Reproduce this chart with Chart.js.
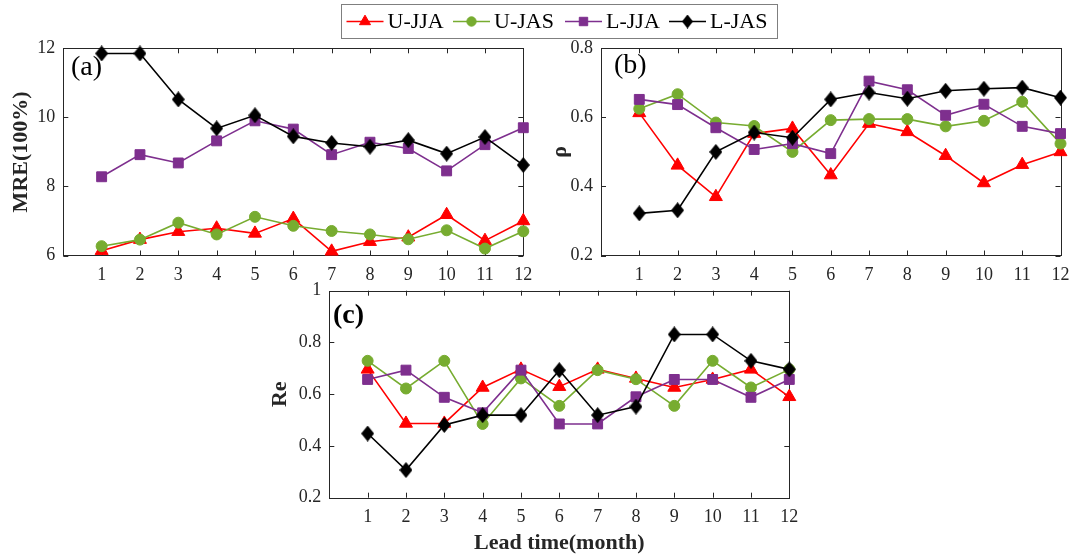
<!DOCTYPE html>
<html>
<head>
<meta charset="utf-8">
<title>MRE, rho and Re by lead time</title>
<script src="https://cdn.jsdelivr.net/npm/chart.js@4.4.1/dist/chart.umd.min.js"></script>
<style>
    html, body { margin: 0; padding: 0; background: #fff; }
    #wrap { position: relative; width: 1075px; height: 559px; }
    #wrap canvas { position: absolute; left: 0; top: 0; }
</style>
</head>
<body>
<div id="wrap">
    <canvas id="chartA" width="1075" height="559"></canvas>
    <canvas id="chartB" width="1075" height="559"></canvas>
    <canvas id="chartC" width="1075" height="559"></canvas>
</div>
<script>
// Lead times (months)
const months = [1, 2, 3, 4, 5, 6, 7, 8, 9, 10, 11, 12];
const seriesNames = ['U-JJA', 'U-JAS', 'L-JJA', 'L-JAS'];

// (a) MRE(100%)
const mreUJJA = [6.14, 6.46, 6.69, 6.79, 6.64, 7.07, 6.12, 6.40, 6.53, 7.18, 6.43, 7.00];
const mreUJAS = [6.27, 6.46, 6.95, 6.61, 7.12, 6.86, 6.71, 6.61, 6.47, 6.73, 6.20, 6.70];
const mreLJJA = [8.28, 8.92, 8.68, 9.32, 9.90, 9.66, 8.92, 9.28, 9.10, 8.45, 9.21, 9.70];
const mreLJAS = [11.85, 11.85, 10.52, 9.68, 10.06, 9.45, 9.26, 9.15, 9.34, 8.95, 9.43, 8.62];
const mreTicks = [6, 8, 10, 12];

// (b) rho
const rhoUJJA = [0.613, 0.461, 0.370, 0.553, 0.568, 0.433, 0.582, 0.558, 0.489, 0.410, 0.463, 0.500];
const rhoUJAS = [0.625, 0.667, 0.585, 0.575, 0.500, 0.592, 0.595, 0.595, 0.574, 0.590, 0.645, 0.524];
const rhoLJJA = [0.652, 0.637, 0.570, 0.507, 0.524, 0.495, 0.705, 0.680, 0.606, 0.638, 0.574, 0.553];
const rhoLJAS = [0.322, 0.331, 0.500, 0.556, 0.541, 0.652, 0.672, 0.654, 0.677, 0.683, 0.686, 0.657];
const rhoTicks = [0.2, 0.4, 0.6, 0.8];

// (c) Re
const reUJJA = [0.696, 0.487, 0.487, 0.626, 0.696, 0.629, 0.696, 0.661, 0.626, 0.657, 0.696, 0.590];
const reUJAS = [0.729, 0.622, 0.729, 0.485, 0.661, 0.555, 0.693, 0.658, 0.555, 0.729, 0.626, 0.696];
const reLJJA = [0.657, 0.693, 0.588, 0.528, 0.693, 0.485, 0.485, 0.590, 0.657, 0.657, 0.588, 0.657];
const reLJAS = [0.448, 0.307, 0.481, 0.519, 0.519, 0.693, 0.519, 0.552, 0.831, 0.831, 0.729, 0.696];
const reTicks = [0.2, 0.4, 0.6, 0.8, 1];

const colors = ['#ff0000', '#77ac30', '#7e2f8e', '#000000'];
const FONT = "'Liberation Serif', 'Times New Roman', serif";

Chart.defaults.font.family = FONT;
Chart.defaults.color = '#262626';

// Tall diamond marker like MATLAB's 'd'
function makeDiamond(w, h) {
    const c = document.createElement('canvas');
    c.width = w; c.height = h;
    const g = c.getContext('2d');
    g.fillStyle = '#000';
    g.beginPath();
    g.moveTo(w / 2, 0);
    g.lineTo(w, h / 2);
    g.lineTo(w / 2, h);
    g.lineTo(0, h / 2);
    g.closePath();
    g.fill();
    return c;
}
const diamond = makeDiamond(13, 16);
const diamondSmall = makeDiamond(11, 14);

const markers = [
    { style: 'triangle', radius: 7.5 },
    { style: 'circle', radius: 5.5 },
    { style: 'rect', radius: 7 },
    { style: diamond, radius: 7 }
];

// Box round the plot area with inward ticks on all four sides
const framePlugin = {
    id: 'frame',
    beforeDatasetsDraw(chart) {
        const ctx = chart.ctx;
        const a = chart.chartArea;
        const xs = chart.scales.x, ys = chart.scales.y;
        const len = 5;
        ctx.save();
        ctx.strokeStyle = '#262626';
        ctx.lineWidth = 1;
        ctx.strokeRect(Math.round(a.left) + 0.5, Math.round(a.top) + 0.5,
            Math.round(a.right - a.left), Math.round(a.bottom - a.top));
        ctx.beginPath();
        xs.ticks.forEach(t => {
            const px = Math.round(xs.getPixelForValue(t.value)) + 0.5;
            ctx.moveTo(px, a.bottom); ctx.lineTo(px, a.bottom - len);
            ctx.moveTo(px, a.top); ctx.lineTo(px, a.top + len);
        });
        ys.ticks.forEach(t => {
            const py = Math.round(ys.getPixelForValue(t.value)) + 0.5;
            ctx.moveTo(a.left, py); ctx.lineTo(a.left + len, py);
            ctx.moveTo(a.right, py); ctx.lineTo(a.right - len, py);
        });
        ctx.stroke();
        ctx.restore();
    }
};

// (a) / (b) / (c) tag inside each panel
const tagPlugin = {
    id: 'panelTag',
    afterDatasetsDraw(chart, args, opts) {
        if (!opts.text) return;
        const ctx = chart.ctx;
        ctx.save();
        ctx.font = (opts.bold ? 'bold ' : '') + '28px ' + FONT;
        ctx.fillStyle = '#000';
        ctx.textAlign = 'left';
        ctx.textBaseline = 'middle';
        ctx.fillText(opts.text, opts.x, opts.y);
        ctx.restore();
    }
};

// Shared legend drawn once, above the top panels
const legendPlugin = {
    id: 'sharedLegend',
    afterDraw(chart, args, opts) {
        if (!opts.show) return;
        const ctx = chart.ctx;
        ctx.save();
        ctx.fillStyle = '#fff';
        ctx.fillRect(341.5, 4.5, 436, 34);
        ctx.strokeStyle = '#7f7f7f';
        ctx.lineWidth = 1;
        ctx.strokeRect(341.5, 4.5, 436, 34);
        const starts = [346.5, 453, 565, 669];
        const y = 21.5;
        seriesNames.forEach((name, i) => {
            const x0 = starts[i];
            ctx.strokeStyle = colors[i];
            ctx.lineWidth = 1.6;
            ctx.beginPath();
            ctx.moveTo(x0, y); ctx.lineTo(x0 + 37, y);
            ctx.stroke();
            ctx.fillStyle = colors[i];
            ctx.strokeStyle = colors[i];
            ctx.lineWidth = 1;
            const st = i === 3 ? diamondSmall : markers[i].style;
            Chart.helpers.drawPoint(ctx, { pointStyle: st, radius: markers[i].radius * 0.85, borderWidth: 1 }, x0 + 18.5, y);
            ctx.fillStyle = '#000';
            ctx.font = '22px ' + FONT;
            ctx.textAlign = 'left';
            ctx.textBaseline = 'middle';
            ctx.fillText(name, x0 + 41, y + 1);
        });
        ctx.restore();
    }
};

function makePanel(id, cfg) {
    const lh = 22 * 1.2;
    const padLeft = cfg.yTitleX - lh / 2 - 4;
    const yWidth = cfg.area.l - padLeft;
    const xHeight = cfg.xTitle ? 559 - cfg.area.b : 40;
    const padBottom = 559 - cfg.area.b - xHeight;

    const datasets = cfg.series.map((vals, i) => ({
        label: seriesNames[i],
        data: months.map((m, k) => ({ x: m, y: vals[k] })),
        borderColor: colors[i],
        backgroundColor: colors[i],
        borderWidth: 1.6,
        pointStyle: markers[i].style,
        pointRadius: markers[i].radius,
        pointBorderWidth: 1,
        pointBorderColor: colors[i],
        pointBackgroundColor: colors[i],
        tension: 0,
        clip: false,
        order: 3 - i
    }));

    return new Chart(document.getElementById(id), {
        type: 'line',
        data: { datasets: datasets },
        options: {
            responsive: false,
            animation: false,
            devicePixelRatio: 1,
            layout: {
                padding: { left: padLeft, top: cfg.area.t, right: 1075 - cfg.area.r, bottom: padBottom }
            },
            plugins: {
                legend: { display: false },
                tooltip: { enabled: false },
                panelTag: { text: cfg.tag, x: cfg.tagX, y: cfg.tagY, bold: !!cfg.tagBold },
                sharedLegend: { show: !!cfg.legend }
            },
            scales: {
                x: {
                    type: 'linear',
                    min: 0,
                    max: 12,
                    grid: { display: false, drawTicks: false },
                    border: { display: false },
                    ticks: { stepSize: 1, padding: 9, font: { size: 18 }, color: '#262626', maxRotation: 0, autoSkip: false },
                    afterBuildTicks: s => { s.ticks = months.map(v => ({ value: v })); },
                    afterFit: s => {
                        s.height = xHeight;
                        s.paddingLeft = 0; s.paddingRight = 0; s.paddingTop = 0; s.paddingBottom = 0;
                    },
                    title: {
                        display: !!cfg.xTitle,
                        text: cfg.xTitle || '',
                        color: '#262626',
                        font: { size: 22, weight: 'bold' },
                        padding: { top: 0, bottom: cfg.xTitle ? 559 - cfg.xTitleY - lh / 2 : 0 }
                    }
                },
                y: {
                    min: cfg.yTicks[0],
                    max: cfg.yTicks[cfg.yTicks.length - 1],
                    grid: { display: false, drawTicks: false },
                    border: { display: false },
                    ticks: {
                        padding: 8,
                        font: { size: 18 },
                        color: '#262626',
                        callback: v => String(Number(v.toFixed(2)))
                    },
                    afterBuildTicks: s => { s.ticks = cfg.yTicks.map(v => ({ value: v })); },
                    afterFit: s => {
                        s.width = yWidth;
                        s.paddingLeft = 0; s.paddingRight = 0; s.paddingTop = 0; s.paddingBottom = 0;
                    },
                    title: {
                        display: true,
                        text: cfg.yTitle,
                        color: '#262626',
                        font: { size: 22, weight: 'bold' },
                        padding: { top: 4, bottom: 0 }
                    }
                }
            }
        },
        plugins: [framePlugin, tagPlugin, legendPlugin]
    });
}

makePanel('chartA', {
    area: { l: 63.3, t: 48.3, r: 523.3, b: 255.5 },
    yTitle: 'MRE(100%)', yTitleX: 21.7, yTicks: mreTicks,
    series: [mreUJJA, mreUJAS, mreLJJA, mreLJAS],
    tag: '(a)', tagX: 71, tagY: 68,
    legend: true
});

makePanel('chartB', {
    area: { l: 601, t: 48.3, r: 1060.5, b: 255.5 },
    yTitle: 'ρ', yTitleX: 560, yTicks: rhoTicks,
    series: [rhoUJJA, rhoUJAS, rhoLJJA, rhoLJAS],
    tag: '(b)', tagX: 614, tagY: 66
});

makePanel('chartC', {
    area: { l: 329.3, t: 290.7, r: 789.3, b: 497.7 },
    yTitle: 'Re', yTitleX: 280, yTicks: reTicks,
    series: [reUJJA, reUJAS, reLJJA, reLJAS],
    tag: '(c)', tagX: 333, tagY: 316, tagBold: true,
    xTitle: 'Lead time(month)', xTitleY: 543
});
</script>
</body>
</html>
